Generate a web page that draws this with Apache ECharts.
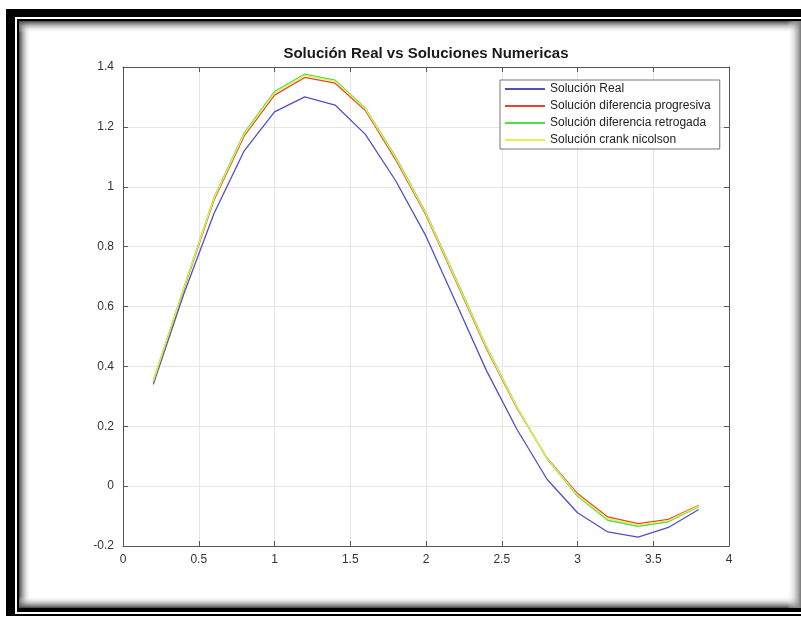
<!DOCTYPE html>
<html>
<head>
<meta charset="utf-8">
<script src="https://cdn.jsdelivr.net/npm/echarts@6/dist/echarts.min.js"></script>
<style>
html, body { margin: 0; padding: 0; background: #fff; }
#main { width: 801px; height: 618px; }
</style>
</head>
<body>
<div id="main"></div>
<script>
// x positions and the four solutions
var xs = [0.2, 0.4, 0.6, 0.8, 1.0, 1.2, 1.4, 1.6, 1.8, 2.0, 2.2, 2.4, 2.6, 2.8, 3.0, 3.2, 3.4, 3.6, 3.8];
var real = [0.34, 0.64, 0.91, 1.12, 1.25, 1.30, 1.273, 1.175, 1.02, 0.835, 0.61, 0.385, 0.19, 0.022, -0.089, -0.153, -0.17, -0.138, -0.078];
var progresiva = [0.35, 0.655, 0.955, 1.17, 1.306, 1.365, 1.346, 1.255, 1.09, 0.905, 0.682, 0.458, 0.26, 0.093, -0.025, -0.103, -0.125, -0.111, -0.064];
var retrogada = [0.352, 0.66, 0.963, 1.18, 1.318, 1.376, 1.356, 1.262, 1.1, 0.912, 0.69, 0.465, 0.265, 0.09, -0.033, -0.114, -0.134, -0.119, -0.069];
var crank = [0.351, 0.658, 0.96, 1.176, 1.313, 1.372, 1.352, 1.26, 1.096, 0.909, 0.686, 0.462, 0.263, 0.092, -0.03, -0.109, -0.13, -0.115, -0.066];

var names = ['Solución Real', 'Solución diferencia progresiva', 'Solución diferencia retrogada', 'Solución crank nicolson'];
var colors = ['#5050c4', '#e4452c', '#4cdc4c', '#ecec4c'];
var font = 'Liberation Sans, Arial, sans-serif';
var axisColor = '#555';

function pairs(ys) {
    return xs.map(function (x, i) { return [x, ys[i]]; });
}

function grad(x, y, w, h, x2, y2, from, to) {
    return {
        type: 'rect', silent: true, z: -10,
        shape: { x: x, y: y, width: w, height: h },
        style: { fill: new echarts.graphic.LinearGradient(0, 0, x2, y2, [
            { offset: 0, color: from }, { offset: 1, color: to }]) }
    };
}

function box(x, y, w, h, fill, z) {
    return { type: 'rect', silent: true, z: z, shape: { x: x, y: y, width: w, height: h }, style: { fill: fill } };
}

// matlab style box: ticks inside on all four sides
function frameAxis(base, extra) {
    var a = {
        type: 'value',
        axisLine: { show: true, onZero: false, lineStyle: { color: axisColor } },
        axisTick: { show: true, inside: true, length: 5, lineStyle: { color: axisColor } }
    };
    return Object.assign(a, base, extra);
}

var chart = echarts.init(document.getElementById('main'));

var option = {
    animation: false,
    backgroundColor: '#fff',
    color: colors,
    title: {
        text: 'Solución Real vs Soluciones Numericas',
        left: 426, top: 46, padding: 0, textAlign: 'center',
        textStyle: { fontFamily: font, fontSize: 15, fontWeight: 'bold', color: '#1a1a1a' }
    },
    legend: {
        orient: 'vertical', left: 500, top: 80,
        itemWidth: 40, itemHeight: 12, itemGap: 5,
        padding: [3, 9, 3, 4],
        borderColor: '#777', borderWidth: 1, backgroundColor: '#fff',
        itemStyle: { opacity: 0 },
        textStyle: { fontFamily: font, fontSize: 12, color: '#222' },
        data: names
    },
    graphic: [
        box(6, 9, 800, 607, '#000', -20),
        box(15, 17, 790, 597, '#fff', -19),
        box(17, 19, 790, 593, '#000', -18),
        box(19, 21, 790, 587, '#fff', -17),
        grad(19, 21, 12, 587, 1, 0, '#444', 'rgba(255,255,255,0)'),
        grad(19, 21, 790, 12, 0, 1, '#444', 'rgba(255,255,255,0)'),
        grad(19, 596, 790, 12, 0, 1, 'rgba(255,255,255,0)', '#444'),
        grad(787, 21, 14, 587, 1, 0, 'rgba(255,255,255,0)', '#777')
    ],
    grid: { left: 123, right: 72, top: 67, bottom: 72, containLabel: false },
    xAxis: [
        frameAxis({ min: 0, max: 4, interval: 0.5 }, {
            axisLabel: { margin: 8, color: '#333', fontSize: 12, fontFamily: font },
            splitLine: { show: true, lineStyle: { color: '#e6e6e6' } }
        }),
        frameAxis({ min: 0, max: 4, interval: 0.5 }, {
            position: 'top', axisLabel: { show: false }, splitLine: { show: false }
        })
    ],
    yAxis: [
        frameAxis({ min: -0.2, max: 1.4, interval: 0.2 }, {
            axisLabel: { margin: 9, color: '#333', fontSize: 12, fontFamily: font },
            splitLine: { show: true, lineStyle: { color: '#e6e6e6' } }
        }),
        frameAxis({ min: -0.2, max: 1.4, interval: 0.2 }, {
            position: 'right', axisLabel: { show: false }, splitLine: { show: false }
        })
    ],
    series: [real, progresiva, retrogada, crank].map(function (ys, i) {
        return {
            type: 'line', name: names[i], data: pairs(ys),
            symbol: 'none', xAxisIndex: 0, yAxisIndex: 0,
            lineStyle: { width: 1.3, color: colors[i] },
            itemStyle: { color: colors[i] }
        };
    })
};

chart.setOption(option);
</script>
</body>
</html>
